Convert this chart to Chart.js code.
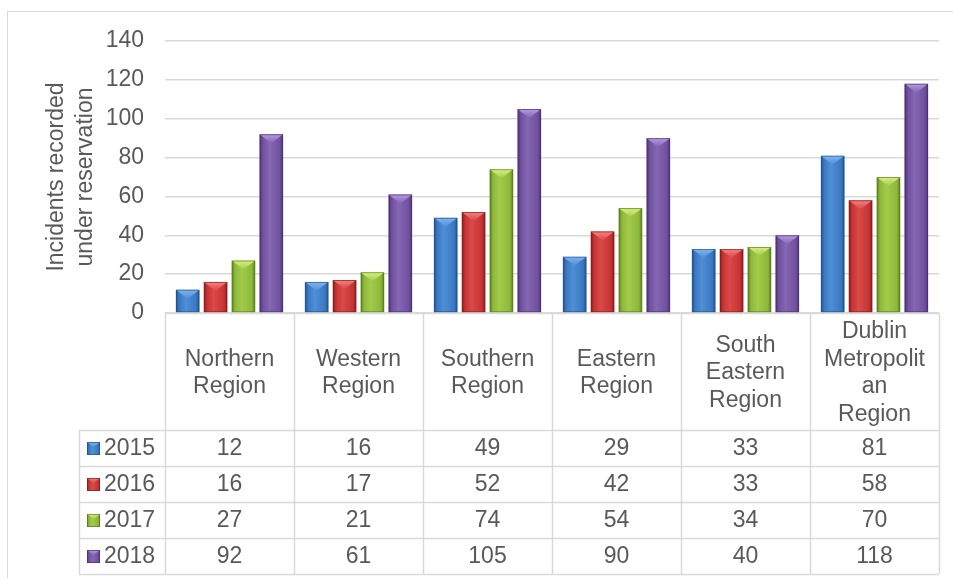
<!DOCTYPE html>
<html>
<head>
<meta charset="utf-8">
<title>Incidents recorded under reservation</title>
<script src="https://cdn.jsdelivr.net/npm/chart.js@4.4.1/dist/chart.umd.min.js"></script>
<style>
  html, body { margin: 0; padding: 0; background: #fff; }
  canvas { display: block; }
</style>
</head>
<body>
<canvas id="chart" width="953" height="578"></canvas>
<script>
// category labels, as wrapped in the data table
var regions = [
	['Northern', 'Region'],
	['Western', 'Region'],
	['Southern', 'Region'],
	['Eastern', 'Region'],
	['South', 'Eastern', 'Region'],
	['Dublin', 'Metropolit', 'an', 'Region']
];
var years = ['2015', '2016', '2017', '2018'];

var v2015 = [12, 16, 49, 29, 33, 81];
var v2016 = [16, 17, 52, 42, 33, 58];
var v2017 = [27, 21, 74, 54, 34, 70];
var v2018 = [92, 61, 105, 90, 40, 118];

var yMin = 0, yMax = 140, yStep = 20;
var yTitle = ['Incidents recorded', 'under reservation'];

var FONT = '"Liberation Sans", Arial, sans-serif';
var TEXT = '#595959';
var LINE = '#d9d9d9';

// body, dark edge, light bevel on top
var palette = [
	{body: '#3a78c2', light: '#4f8fd6', edge: '#22518c', top: '#80b6ee'},
	{body: '#c63334', light: '#d94a48', edge: '#861c1c', top: '#f48280'},
	{body: '#8db83a', light: '#a2cb4b', edge: '#5a7a20', top: '#dcf282'},
	{body: '#70519f', light: '#8466b3', edge: '#4a3270', top: '#b79be4'}
];

function bevelRect(ctx, left, top, w, h, c, depth){
	if(h <= 0) return;
	ctx.save();
	ctx.beginPath();
	ctx.rect(left, top, w, h);
	ctx.clip();
	var g = ctx.createLinearGradient(left, 0, left + w, 0);
	g.addColorStop(0, c.edge);
	g.addColorStop(0.14, c.body);
	g.addColorStop(0.42, c.light);
	g.addColorStop(0.86, c.body);
	g.addColorStop(1, c.edge);
	ctx.fillStyle = g;
	ctx.fillRect(left, top, w, h);
	// top bevel (triangle pointing down)
	var tg = ctx.createLinearGradient(0, top, 0, top + depth);
	tg.addColorStop(0, c.top);
	tg.addColorStop(1, c.light);
	ctx.fillStyle = tg;
	ctx.beginPath();
	ctx.moveTo(left, top);
	ctx.lineTo(left + w, top);
	ctx.lineTo(left + w / 2, top + depth);
	ctx.closePath();
	ctx.fill();
	ctx.strokeStyle = c.edge;
	ctx.globalAlpha = 0.7;
	ctx.lineWidth = 1;
	ctx.strokeRect(left + 0.5, top + 0.5, w - 1, h - 1);
	ctx.restore();
}

var bevelPlugin = {
	id: 'bevel',
	afterDatasetsDraw(chart){
		var ctx = chart.ctx;
		chart.data.datasets.forEach(function(ds, i){
			var meta = chart.getDatasetMeta(i);
			meta.data.forEach(function(bar){
				var left = bar.x - bar.width / 2;
				bevelRect(ctx, left, bar.y, bar.width, bar.base - bar.y, palette[i], bar.width * 0.38);
			});
		});
	}
};

var tablePlugin = {
	id: 'dataTable',
	beforeDraw(chart){
		var ctx = chart.ctx;
		ctx.save();
		ctx.strokeStyle = LINE;
		ctx.lineWidth = 1;
		ctx.strokeRect(7.5, 11.5, 960, 600);
		ctx.restore();
	},
	afterDraw(chart){
		var ctx = chart.ctx, xs = chart.scales.x, area = chart.chartArea;
		var half = (xs.getPixelForValue(1) - xs.getPixelForValue(0)) / 2;
		var edges = regions.map(function(r, i){ return xs.getPixelForValue(i) - half; });
		edges.push(xs.getPixelForValue(regions.length - 1) + half);
		var top = area.bottom;
		var labelBottom = top + 117;
		var rowH = 36;
		var legendLeft = 79;
		var tableBottom = labelBottom + rowH * years.length;

		ctx.save();
		ctx.strokeStyle = LINE;
		ctx.lineWidth = 1.5;
		ctx.beginPath();
		edges.forEach(function(x){
			ctx.moveTo(Math.round(x) + 0.5, top);
			ctx.lineTo(Math.round(x) + 0.5, tableBottom);
		});
		ctx.moveTo(legendLeft + 0.5, labelBottom);
		ctx.lineTo(legendLeft + 0.5, tableBottom);
		ctx.moveTo(edges[0], top + 0.5);
		ctx.lineTo(edges[edges.length - 1], top + 0.5);
		for(var r = 0; r <= years.length; r++){
			var y = Math.round(labelBottom + r * rowH) + 0.5;
			ctx.moveTo(legendLeft, y);
			ctx.lineTo(edges[edges.length - 1], y);
		}
		ctx.stroke();

		ctx.fillStyle = TEXT;
		ctx.font = '23px ' + FONT;
		ctx.textAlign = 'center';
		ctx.textBaseline = 'middle';
		var lh = 27.5;
		var mid = (top + labelBottom) / 2 + 1.5;
		regions.forEach(function(lines, i){
			var cx = xs.getPixelForValue(i);
			var y0 = mid - (lines.length - 1) * lh / 2;
			lines.forEach(function(t, k){ ctx.fillText(t, cx, y0 + k * lh); });
		});

		var rows = [v2015, v2016, v2017, v2018];
		rows.forEach(function(vals, r){
			var cy = labelBottom + r * rowH + rowH / 2 + 1;
			vals.forEach(function(v, i){
				ctx.fillText(String(v), xs.getPixelForValue(i), cy);
			});
			// legend key + year
			bevelRect(ctx, 87, Math.round(cy - 7), 13, 13, palette[r], 5);
			ctx.textAlign = 'left';
			ctx.fillText(years[r], 104, cy);
			ctx.textAlign = 'center';
		});
		ctx.restore();
	}
};

var datasets = [v2015, v2016, v2017, v2018].map(function(vals, i){
	return {
		label: years[i],
		data: vals,
		backgroundColor: palette[i].body,
		borderWidth: 0,
		categoryPercentage: 0.865,
		barPercentage: 0.845
	};
});

new Chart(document.getElementById('chart'), {
	type: 'bar',
	data: {
		labels: regions.map(function(r){ return r.join(' '); }),
		datasets: datasets
	},
	options: {
		responsive: false,
		animation: false,
		layout: {padding: {left: 40, top: 41, right: 14, bottom: 265}},
		plugins: {legend: {display: false}, tooltip: {enabled: false}},
		scales: {
			x: {display: false},
			y: {
				min: yMin,
				max: yMax,
				afterFit: function(s){ s.width = 125; },
				border: {display: false},
				grid: {color: LINE, lineWidth: 1.5, drawTicks: false},
				ticks: {
					stepSize: yStep,
					padding: 21,
					color: TEXT,
					font: {family: FONT, size: 23}
				},
				title: {
					display: true,
					text: yTitle,
					color: TEXT,
					padding: {top: 2, bottom: 0},
					font: {family: FONT, size: 23, lineHeight: 1.26}
				}
			}
		}
	},
	plugins: [bevelPlugin, tablePlugin]
});
</script>
</body>
</html>
